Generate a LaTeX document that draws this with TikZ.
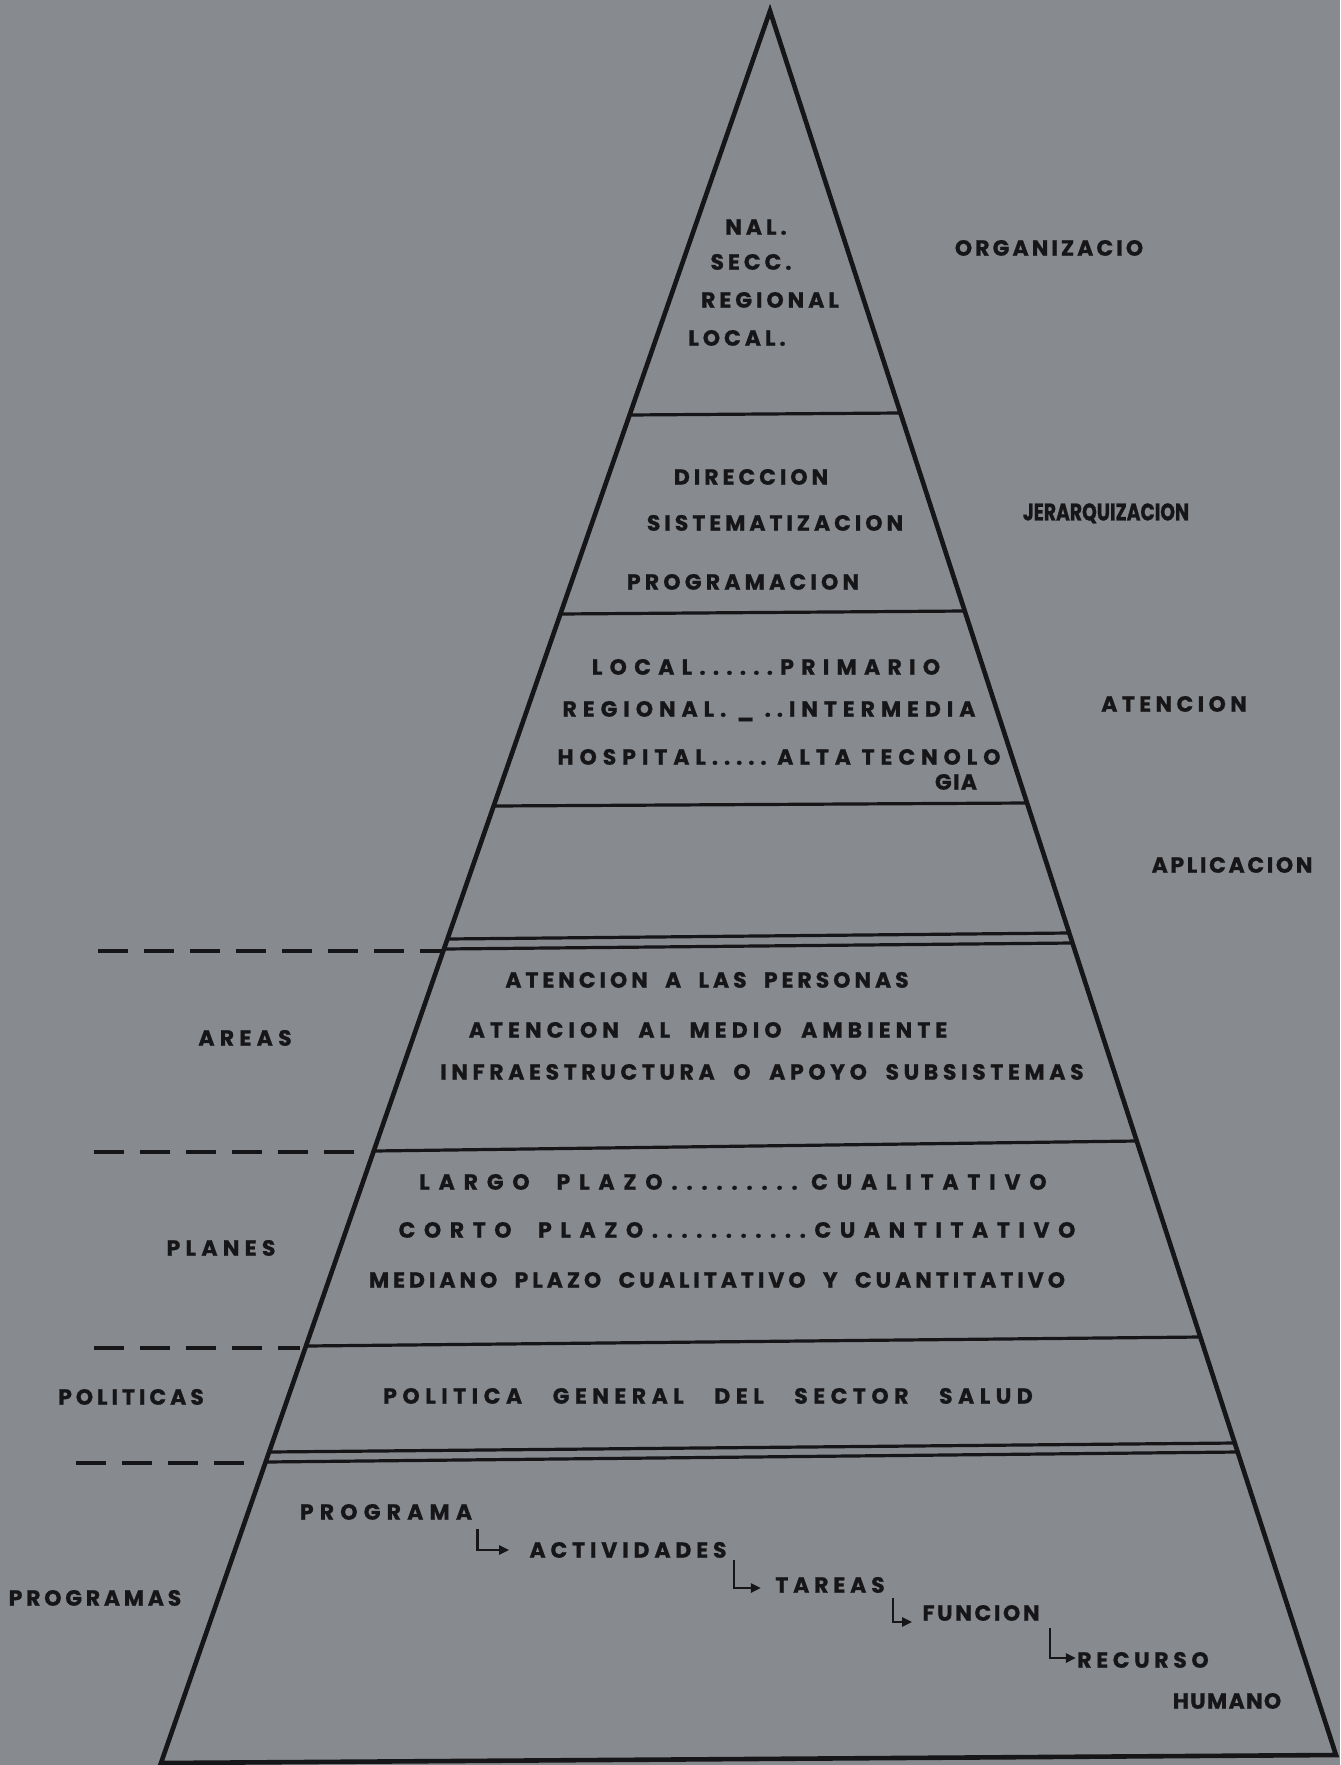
\documentclass[tikz,border=0pt]{standalone}
\usepackage{fontspec}
\setmainfont{Poppins}
\newfontfamily\rotulo{Poppins}
\usetikzlibrary{arrows.meta,positioning,calc}
\definecolor{fondo}{RGB}{135,138,142}
\definecolor{tinta}{RGB}{22,22,24}

\tikzset{
  txt/.style={font=\rotulo\bfseries\fontsize{11}{13}\selectfont\addfontfeature{LetterSpace=#1,FakeBold=0.8},
    inner sep=0pt, text height=7.7pt, text depth=0pt, text=tinta},
  txt/.default=18,
  jer/.style={font=\rotulo\bfseries\fontsize{12}{14}\selectfont\addfontfeature{FakeStretch=0.78,FakeBold=1},
    inner sep=0pt, text height=8.4pt, text depth=0pt, text=tinta},
  borde/.style={draw=tinta, line width=2.3pt, line join=miter},
  capa/.style={draw=tinta, line width=1.6pt},
  guion/.style={draw=tinta, line width=1.7pt, dash pattern=on 15pt off 8pt},
  flecha/.style={draw=tinta, line width=1.3pt, -{Triangle[length=5pt,width=4.5pt]}},
}

\begin{document}
\begin{tikzpicture}[x=0.5pt,y=-0.5pt]
\fill[fondo] (0,0) rectangle (1340,1765);
\useasboundingbox (0,0) rectangle (1340,1765);

% piramide
\coordinate (apex) at (770,11);
\coordinate (bl) at (161,1763);
\coordinate (br) at (1336,1755);
\draw[borde] (bl) -- (apex) -- (br) -- cycle;

% niveles
\draw[capa] (629.6,415) -- (900.5,413);
\draw[capa] (560.4,614) -- (964.7,611);
\draw[capa] (493.7,806) -- (1027,803);
\draw[capa] (447.4,939) -- (1069.2,933);
\draw[capa] (444,949) -- (1072.5,943);
\draw[capa] (373.7,1151) -- (1136.7,1141);
\draw[capa] (306,1346) -- (1200.3,1337);
\draw[capa] (269.1,1452) -- (1234.7,1443);
\draw[capa] (265.6,1462) -- (1237.7,1452);

% guiones de la izquierda
\draw[guion] (98,951) -- (443,951);
\draw[guion] (94,1152) -- (360,1152);
\draw[guion] (94,1348) -- (300,1348);
\draw[guion] (76,1463) -- (245,1463);

% rotulos de la derecha
\node[txt=14] (organiz) at (1049,248) {ORGANIZACIO};
\node[jer] (jerarq) at (1106,512) {JERARQUIZACION};
\node[txt=20] (atenc) at (1174,704) {ATENCION};
\node[txt=12] (aplic) at (1232,865) {APLICACION};

% organizacion
\node[txt] (nal) at (756,227) {NAL.};
\node[txt] (secc) at (751,262) {SECC.};
\node[txt] (regio) at (770,300) {REGIONAL};
\node[txt] (local) at (737,338) {LOCAL.};

% jerarquizacion
\node[txt] (direc) at (751,477) {DIRECCION};
\node[txt] (siste) at (775,523) {SISTEMATIZACION};
\node[txt=19] (progr) at (743,582) {PROGRAMACION};

% atencion
\node[txt=33] (primar) at (766,667) {LOCAL......PRIMARIO};
\node[txt=27] (interm) at (769,709) {REGIONAL.~\_~..INTERMEDIA};
\node[txt=27] (altatec) at (779,757) {HOSPITAL.....~ALTA~TECNOLO};
\node[txt=6] (gia) at (956,782) {GIA};

% areas
\node[txt=24] (areas) at (245,1038) {AREAS};
\node[txt] (aper) at (707,980) {ATENCION~~A~~LAS~~PERSONAS};
\node[txt=23] (amed) at (708,1030) {ATENCION~~AL~~MEDIO~~AMBIENTE};
\node[txt=21] (infra) at (762,1072) {INFRAESTRUCTURA~~O~~APOYO~~SUBSISTEMAS};

% planes
\node[txt=24] (planes) at (221,1248) {PLANES};
\node[txt=40] (largo) at (733,1182) {LARGO~~PLAZO.........~CUALITATIVO};
\node[txt=39] (corto) at (737,1230) {CORTO~~PLAZO...........CUANTITATIVO};
\node[txt=18] (medi) at (717,1280) {MEDIANO~~PLAZO~~CUALITATIVO~~Y~~CUANTITATIVO};

% politicas
\node[txt] (polit) at (131,1397) {POLITICAS};
\node[txt=25] (polgen) at (708,1396) {POLITICA~~~GENERAL~~~DEL~~~SECTOR~~~SALUD};

% programas
\node[txt=17] (progs) at (95,1598) {PROGRAMAS};
\node[txt=28] (prog) at (386,1512) {PROGRAMA};
\node[txt=22] (activ) at (628,1550) {ACTIVIDADES};
\node[txt=22] (tareas) at (830,1585) {TAREAS};
\node[txt=12] (funcion) at (981,1613) {FUNCION};
\node[txt=21] (recurso) at (1143,1660) {RECURSO};
\node[txt=6] (humano) at (1227,1701) {HUMANO};

\draw[flecha, shorten >=10pt] ([xshift=2.5pt,yshift=-4.5pt]prog.south east) |- (activ.west);
\draw[flecha, shorten >=7pt] ([xshift=3.5pt,yshift=-1pt]activ.south east) |- ([yshift=-1.5pt]tareas.west);
\draw[flecha, shorten >=5pt] ([xshift=4pt,yshift=-2.5pt]tareas.south east) |- ([yshift=-4.5pt]funcion.west);
\draw[flecha, shorten >=0.5pt] ([xshift=5pt,yshift=-3.5pt]funcion.south east) |- ([yshift=1pt]recurso.west);
\end{tikzpicture}
\end{document}
